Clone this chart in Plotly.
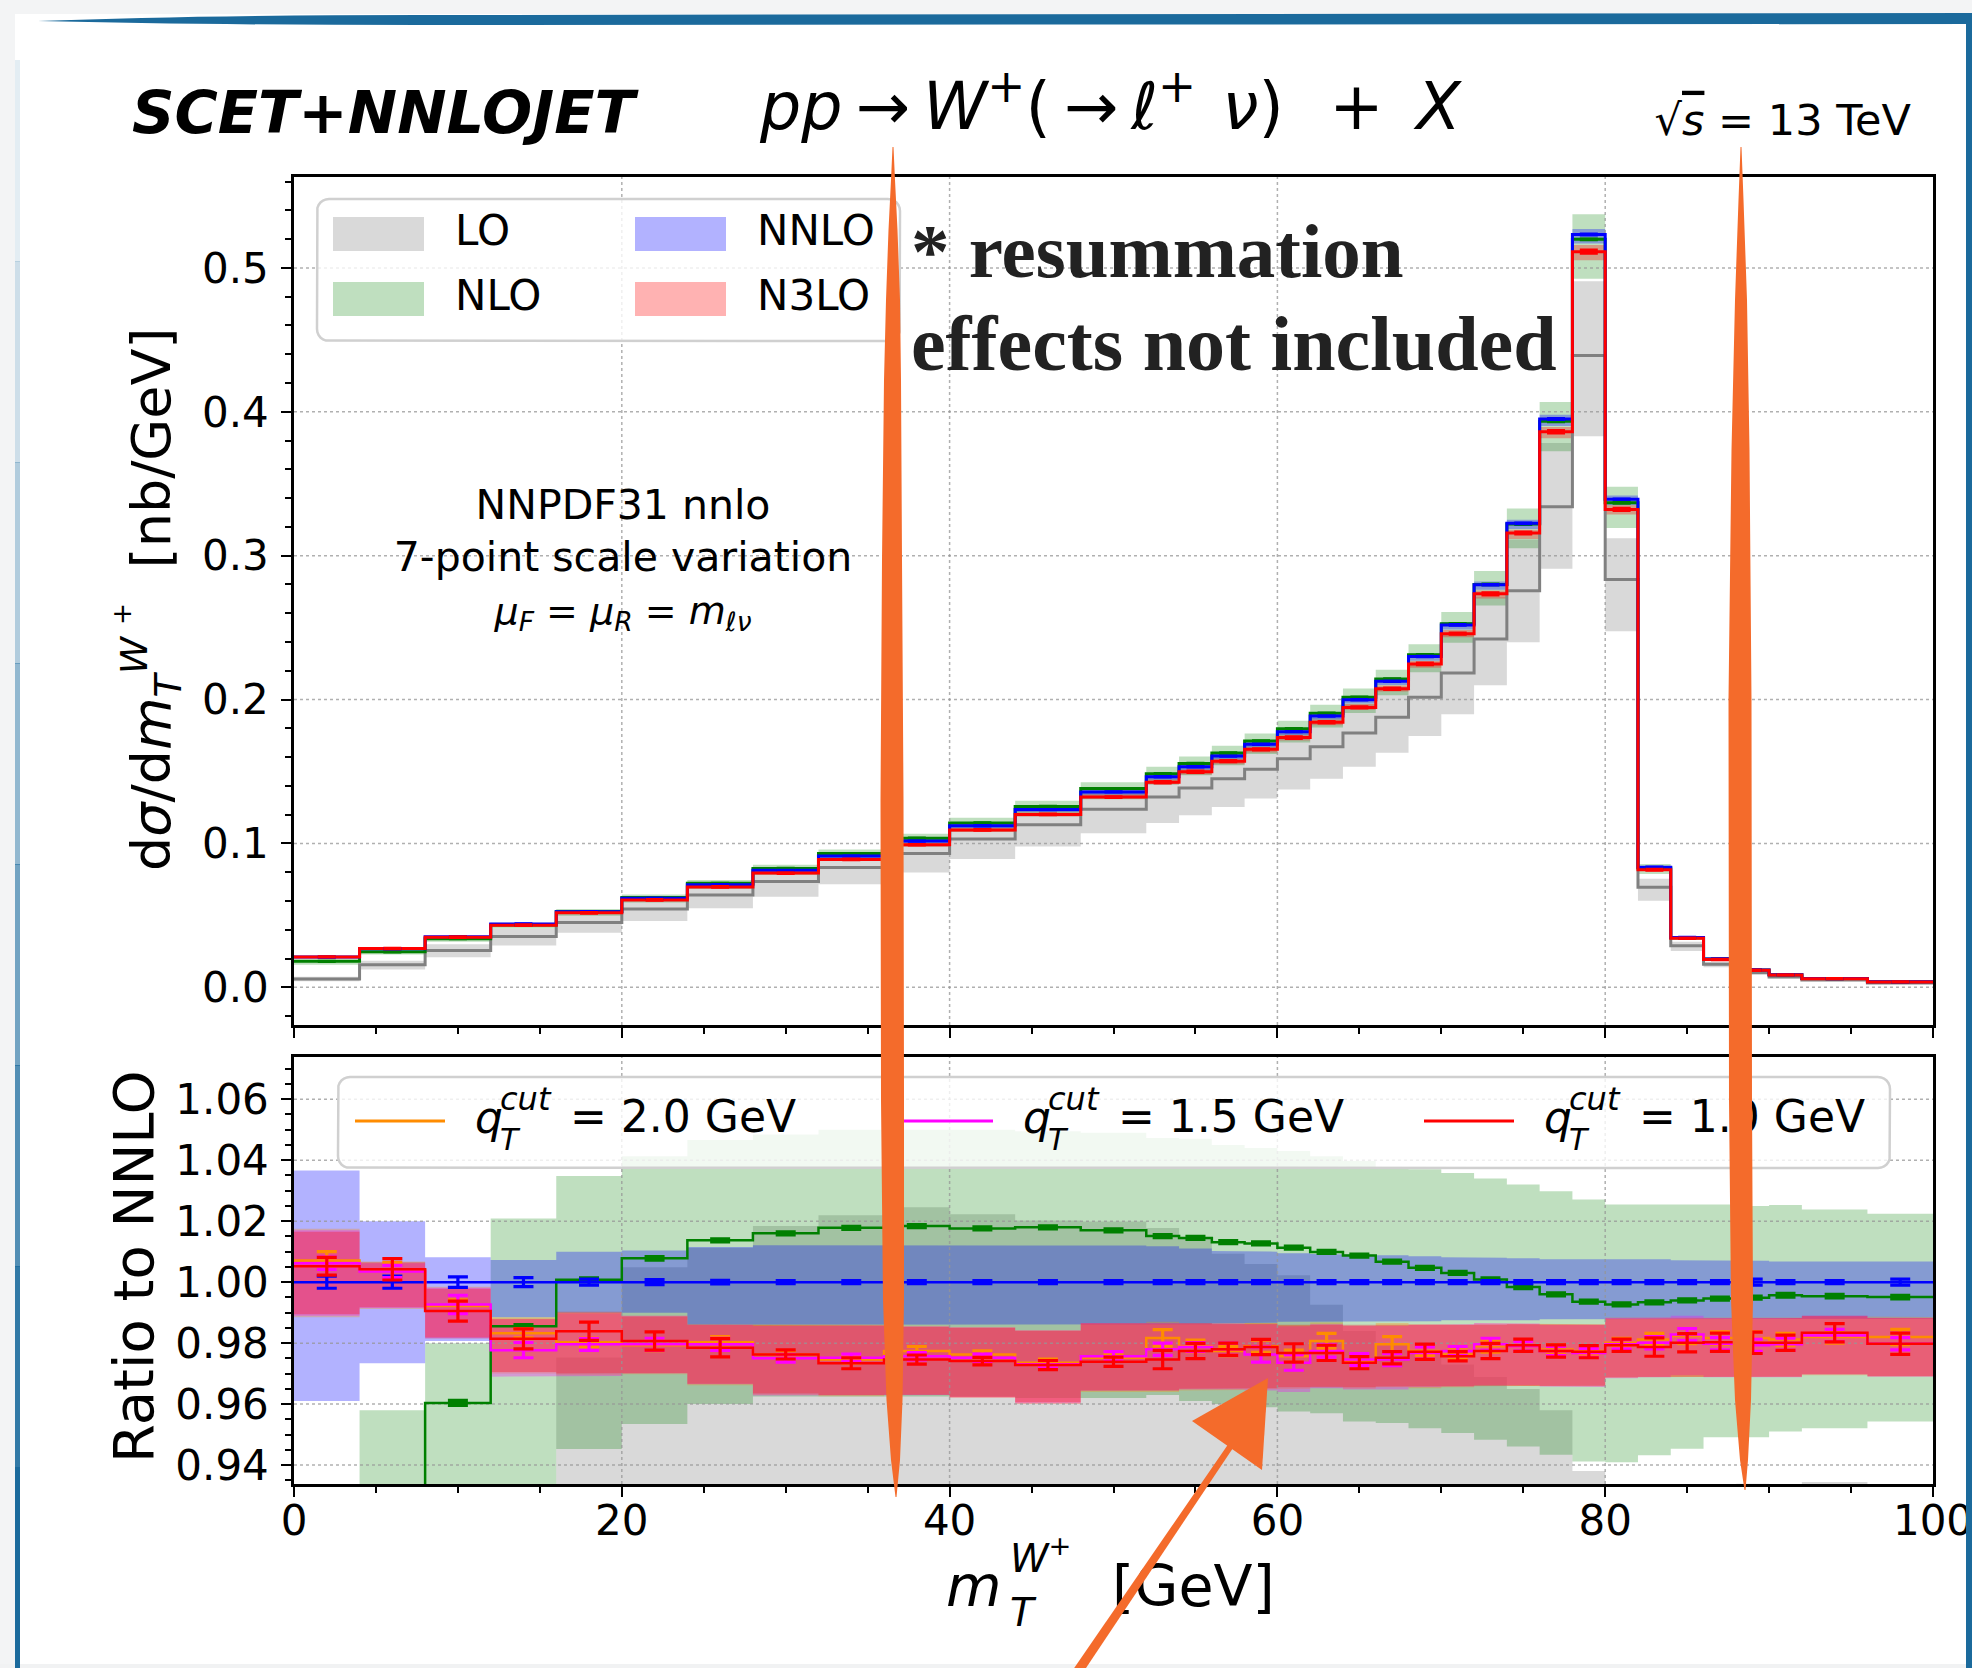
import plotly.graph_objects as go

W, H = 1972, 1668

# ---------------------------------------------------------------- data
# transverse-mass bin edges [GeV]
edges = [0, 4, 8, 12, 16, 20, 24, 28, 32, 36, 40, 44, 48, 52, 54, 56, 58, 60, 62,
         64, 66, 68, 70, 72, 74, 76, 78, 80, 82, 84, 86, 88, 90, 92, 96, 100]

# NNLO central prediction dsigma/dmT [nb/GeV]
nnlo_xs = [0.0210, 0.0268, 0.0352, 0.0440, 0.0526, 0.0619, 0.0713, 0.0813, 0.0913, 0.1017,
           0.1123, 0.1235, 0.1358, 0.1463, 0.1533, 0.1607, 0.1690, 0.1777, 0.1886, 0.1998,
           0.2128, 0.2300, 0.2519, 0.2798, 0.3225, 0.3950, 0.5232, 0.3392, 0.0835, 0.0347,
           0.0197, 0.0121, 0.0088, 0.0061, 0.0038]

# LO prediction and its scale band [nb/GeV]
lo_xs = [0.0058, 0.0156, 0.0256, 0.0353, 0.0451, 0.0544, 0.0642, 0.0735, 0.0833, 0.0930,
         0.1030, 0.1130, 0.1238, 0.1323, 0.1386, 0.1449, 0.1516, 0.1588, 0.1672, 0.1767,
         0.1877, 0.2016, 0.2184, 0.2421, 0.2756, 0.3340, 0.4392, 0.2835, 0.0695, 0.0288,
         0.0160, 0.0102, 0.0072, 0.0051, 0.0030]
lo_xs_dn = [0.0042, 0.0123, 0.0209, 0.0290, 0.0380, 0.0460, 0.0549, 0.0630, 0.0716, 0.0798,
            0.0891, 0.0979, 0.1070, 0.1142, 0.1195, 0.1253, 0.1312, 0.1374, 0.1449, 0.1533,
            0.1630, 0.1747, 0.1898, 0.2100, 0.2398, 0.2910, 0.3830, 0.2474, 0.0602, 0.0253,
            0.0140, 0.0090, 0.0063, 0.0045, 0.0026]
lo_xs_up = [0.0074, 0.0185, 0.0300, 0.0405, 0.0513, 0.0622, 0.0721, 0.0828, 0.0933, 0.1042,
            0.1148, 0.1260, 0.1385, 0.1489, 0.1555, 0.1622, 0.1700, 0.1781, 0.1872, 0.1966,
            0.2085, 0.2247, 0.2451, 0.2711, 0.3112, 0.3784, 0.4908, 0.3121, 0.0755, 0.0316,
            0.0178, 0.0113, 0.0080, 0.0057, 0.0034]

# NLO / NNLO with scale band
nlo_r = [0.8620, 0.9200, 0.9604, 0.9855, 1.0008, 1.0078, 1.0137, 1.0160, 1.0178, 1.0184,
         1.0176, 1.0180, 1.0170, 1.0151, 1.0145, 1.0131, 1.0127, 1.0113, 1.0099, 1.0087,
         1.0067, 1.0047, 1.0030, 1.0009, 0.9984, 0.9960, 0.9936, 0.9927, 0.9934, 0.9940,
         0.9946, 0.9949, 0.9957, 0.9954, 0.9951]
nlo_r_up = [0.9200, 0.9580, 0.9800, 1.0209, 1.0348, 1.0413, 1.0466, 1.0484, 1.0500, 1.0500,
            1.0500, 1.0495, 1.0490, 1.0473, 1.0470, 1.0450, 1.0440, 1.0430, 1.0413, 1.0397,
            1.0375, 1.0370, 1.0358, 1.0340, 1.0320, 1.0298, 1.0271, 1.0255, 1.0255, 1.0255,
            1.0255, 1.0250, 1.0253, 1.0238, 1.0224]
nlo_r_dn = [0.7500, 0.8500, 0.9000, 0.9250, 0.9453, 0.9535, 0.9600, 0.9625, 0.9625, 0.9625,
            0.9625, 0.9620, 0.9620, 0.9630, 0.9610, 0.9600, 0.9590, 0.9576, 0.9570, 0.9543,
            0.9538, 0.9521, 0.9505, 0.9483, 0.9461, 0.9434, 0.9412, 0.9409, 0.9432, 0.9454,
            0.9491, 0.9491, 0.9510, 0.9521, 0.9543]
nlo_err = [0.0006, 0.0006, 0.0008, 0.0006, 0.0006, 0.0006, 0.0005, 0.0005, 0.0005, 0.0005,
           0.0005, 0.0005, 0.0005, 0.0005, 0.0005, 0.0005, 0.0005, 0.0005, 0.0005, 0.0005,
           0.0005, 0.0005, 0.0005, 0.0005, 0.0005, 0.0005, 0.0005, 0.0005, 0.0005, 0.0005,
           0.0005, 0.0005, 0.0006, 0.0006, 0.0006]

# NNLO scale band relative to its central value
nnlo_r_up = [1.0366, 1.0200, 1.0082, 1.0073, 1.0100, 1.0104, 1.0115, 1.0121, 1.0121, 1.0121,
             1.0121, 1.0120, 1.0120, 1.0118, 1.0110, 1.0102, 1.0100, 1.0095, 1.0092, 1.0090,
             1.0088, 1.0085, 1.0082, 1.0080, 1.0078, 1.0075, 1.0073, 1.0075, 1.0075, 1.0072,
             1.0070, 1.0070, 1.0068, 1.0068, 1.0068]
nnlo_r_dn = [0.9610, 0.9734, 0.9807, 0.9885, 0.9900, 0.9900, 0.9860, 0.9860, 0.9860, 0.9860,
             0.9860, 0.9860, 0.9860, 0.9860, 0.9862, 0.9865, 0.9867, 0.9870, 0.9870, 0.9870,
             0.9872, 0.9872, 0.9875, 0.9875, 0.9875, 0.9878, 0.9880, 0.9880, 0.9880, 0.9880,
             0.9880, 0.9880, 0.9880, 0.9880, 0.9880]
nnlo_err = [0.0020, 0.0020, 0.0017, 0.0015, 0.0010, 0.0008, 0.0006, 0.0005, 0.0005, 0.0005,
            0.0005, 0.0005, 0.0005, 0.0005, 0.0005, 0.0005, 0.0005, 0.0005, 0.0005, 0.0005,
            0.0005, 0.0005, 0.0005, 0.0005, 0.0005, 0.0005, 0.0005, 0.0005, 0.0005, 0.0005,
            0.0005, 0.0010, 0.0005, 0.0005, 0.0010]

# N3LO / NNLO for three slicing cuts qT^cut = 2.0, 1.5, 1.0 GeV
n3lo_r_20 = [1.0071, 1.0040, 0.9922, 0.9832, 0.9803, 0.9793, 0.9803, 0.9763, 0.9746, 0.9774,
             0.9763, 0.9736, 0.9752, 0.9817, 0.9790, 0.9774, 0.9790, 0.9757, 0.9807, 0.9741,
             0.9796, 0.9774, 0.9763, 0.9790, 0.9790, 0.9779, 0.9774, 0.9801, 0.9812, 0.9823,
             0.9817, 0.9817, 0.9812, 0.9820, 0.9820]
n3lo_r_15 = [1.0062, 1.0035, 0.9927, 0.9777, 0.9796, 0.9796, 0.9796, 0.9750, 0.9752, 0.9757,
             0.9752, 0.9731, 0.9757, 0.9780, 0.9787, 0.9780, 0.9763, 0.9736, 0.9774, 0.9746,
             0.9746, 0.9768, 0.9774, 0.9796, 0.9790, 0.9774, 0.9768, 0.9796, 0.9801, 0.9828,
             0.9798, 0.9793, 0.9796, 0.9825, 0.9798]
n3lo_r_10 = [1.0052, 1.0042, 0.9905, 0.9814, 0.9839, 0.9807, 0.9785, 0.9763, 0.9734, 0.9746,
             0.9741, 0.9728, 0.9739, 0.9746, 0.9774, 0.9780, 0.9787, 0.9768, 0.9768, 0.9736,
             0.9752, 0.9772, 0.9757, 0.9774, 0.9793, 0.9774, 0.9772, 0.9793, 0.9787, 0.9801,
             0.9803, 0.9801, 0.9801, 0.9834, 0.9798]
err_20 = [0.0029, 0.0025, 0.0020, 0.0015, 0.0015, 0.0018, 0.0018, 0.0012, 0.0012, 0.0015,
          0.0012, 0.0012, 0.0012, 0.0027, 0.0020, 0.0015, 0.0020, 0.0020, 0.0025, 0.0015,
          0.0025, 0.0015, 0.0015, 0.0020, 0.0015, 0.0015, 0.0015, 0.0015, 0.0020, 0.0025,
          0.0020, 0.0020, 0.0020, 0.0020, 0.0025]
err_15 = [0.0020, 0.0020, 0.0030, 0.0025, 0.0020, 0.0020, 0.0020, 0.0012, 0.0012, 0.0012,
          0.0012, 0.0012, 0.0015, 0.0020, 0.0015, 0.0020, 0.0025, 0.0025, 0.0020, 0.0020,
          0.0020, 0.0020, 0.0015, 0.0020, 0.0015, 0.0015, 0.0015, 0.0015, 0.0020, 0.0020,
          0.0020, 0.0020, 0.0020, 0.0020, 0.0020]
err_10 = [0.0029, 0.0035, 0.0033, 0.0033, 0.0030, 0.0030, 0.0030, 0.0015, 0.0018, 0.0015,
          0.0012, 0.0015, 0.0015, 0.0030, 0.0025, 0.0020, 0.0025, 0.0030, 0.0025, 0.0020,
          0.0020, 0.0025, 0.0015, 0.0025, 0.0020, 0.0020, 0.0020, 0.0020, 0.0030, 0.0030,
          0.0030, 0.0035, 0.0025, 0.0030, 0.0035]
n3lo_up_20 = [1.0175, 1.0068, 0.9985, 0.9885, 0.9900, 0.9890, 0.9862, 0.9860, 0.9860, 0.9857,
              0.9853, 0.9843, 0.9866, 0.9870, 0.9866, 0.9862, 0.9866, 0.9858, 0.9868, 0.9856,
              0.9866, 0.9862, 0.9860, 0.9864, 0.9864, 0.9862, 0.9862, 0.9884, 0.9886, 0.9886,
              0.9884, 0.9884, 0.9884, 0.9888, 0.9886]
n3lo_dn_20 = [0.9885, 0.9912, 0.9820, 0.9700, 0.9695, 0.9698, 0.9662, 0.9630, 0.9626, 0.9632,
              0.9620, 0.9600, 0.9640, 0.9640, 0.9645, 0.9646, 0.9648, 0.9650, 0.9658, 0.9650,
              0.9655, 0.9652, 0.9655, 0.9662, 0.9660, 0.9658, 0.9658, 0.9686, 0.9690, 0.9692,
              0.9692, 0.9692, 0.9690, 0.9695, 0.9690]
n3lo_up_15 = [1.0170, 1.0062, 0.9982, 0.9878, 0.9898, 0.9890, 0.9860, 0.9856, 0.9858, 0.9855,
              0.9852, 0.9842, 0.9866, 0.9866, 0.9866, 0.9864, 0.9862, 0.9855, 0.9862, 0.9857,
              0.9857, 0.9860, 0.9862, 0.9866, 0.9864, 0.9860, 0.9860, 0.9882, 0.9884, 0.9890,
              0.9882, 0.9880, 0.9882, 0.9890, 0.9882]
n3lo_dn_15 = [0.9890, 0.9915, 0.9818, 0.9690, 0.9692, 0.9700, 0.9665, 0.9628, 0.9628, 0.9630,
              0.9622, 0.9602, 0.9644, 0.9645, 0.9648, 0.9648, 0.9645, 0.9640, 0.9652, 0.9648,
              0.9648, 0.9655, 0.9658, 0.9662, 0.9662, 0.9658, 0.9656, 0.9685, 0.9688, 0.9695,
              0.9688, 0.9686, 0.9688, 0.9697, 0.9690]
n3lo_up_10 = [1.0165, 1.0065, 0.9978, 0.9880, 0.9903, 0.9887, 0.9860, 0.9858, 0.9858, 0.9853,
              0.9850, 0.9840, 0.9864, 0.9864, 0.9864, 0.9864, 0.9864, 0.9860, 0.9860, 0.9858,
              0.9860, 0.9860, 0.9860, 0.9860, 0.9862, 0.9860, 0.9860, 0.9880, 0.9880, 0.9880,
              0.9882, 0.9882, 0.9882, 0.9890, 0.9882]
n3lo_dn_10 = [0.9895, 0.9918, 0.9815, 0.9705, 0.9700, 0.9702, 0.9667, 0.9635, 0.9630, 0.9630,
              0.9623, 0.9606, 0.9645, 0.9645, 0.9650, 0.9650, 0.9652, 0.9655, 0.9655, 0.9655,
              0.9658, 0.9658, 0.9658, 0.9660, 0.9660, 0.9660, 0.9660, 0.9688, 0.9688, 0.9690,
              0.9690, 0.9690, 0.9690, 0.9698, 0.9692]

top_ticks = [0.0, 0.1, 0.2, 0.3, 0.4, 0.5]
ratio_ticks = [0.94, 0.96, 0.98, 1.00, 1.02, 1.04, 1.06]
x_ticks = [0, 20, 40, 60, 80, 100]

# ---------------------------------------------------------------- derived
nb = len(nnlo_xs)
centers = [(edges[i] + edges[i + 1]) / 2 for i in range(nb)]


def scale(a, b):
    return [x * y for x, y in zip(a, b)]


def div(a, b):
    return [x / y for x, y in zip(a, b)]


nlo_xs, nlo_xs_up, nlo_xs_dn = scale(nnlo_xs, nlo_r), scale(nnlo_xs, nlo_r_up), scale(nnlo_xs, nlo_r_dn)
nnlo_xs_up, nnlo_xs_dn = scale(nnlo_xs, nnlo_r_up), scale(nnlo_xs, nnlo_r_dn)
n3lo_xs, n3lo_xs_up, n3lo_xs_dn = scale(nnlo_xs, n3lo_r_10), scale(nnlo_xs, n3lo_up_10), scale(nnlo_xs, n3lo_dn_10)
lo_r, lo_r_up, lo_r_dn = div(lo_xs, nnlo_xs), div(lo_xs_up, nnlo_xs), div(lo_xs_dn, nnlo_xs)

# ---------------------------------------------------------------- colours
GRAY, GREEN, BLUE, RED = "#808080", "#008000", "#0000ff", "#ff0000"
ORANGE, MAGENTA = "#ff8c00", "#ff00ff"
F_GRAY = "rgba(128,128,128,0.3)"
F_GREEN = "rgba(0,128,0,0.25)"
F_BLUE = "rgba(0,0,255,0.3)"
F_RED = "rgba(255,0,0,0.3)"
F_ORANGE = "rgba(255,140,0,0.3)"
F_MAGENTA = "rgba(255,0,255,0.3)"
ACCENT = "#f46b2b"
FRAME = "#1b6a9c"
FONT = "DejaVu Sans"

fig = go.Figure()


def band(lo, hi, fill, xa, ya):
    xs, ys = [], []
    for i in range(nb):
        xs += [edges[i], edges[i + 1]]
        ys += [hi[i], hi[i]]
    for i in reversed(range(nb)):
        xs += [edges[i + 1], edges[i]]
        ys += [lo[i], lo[i]]
    fig.add_trace(go.Scatter(x=xs, y=ys, fill="toself", fillcolor=fill, mode="lines",
                             line=dict(width=0, color=fill), xaxis=xa, yaxis=ya,
                             hoverinfo="skip", showlegend=False))


def step(vals, color, xa, ya, width=3):
    fig.add_trace(go.Scatter(x=edges, y=list(vals) + [vals[-1]], mode="lines",
                             line=dict(shape="hv", color=color, width=width),
                             xaxis=xa, yaxis=ya, hoverinfo="skip", showlegend=False))


def errs(vals, err, color, xa, ya, thick=3.2, w=10):
    fig.add_trace(go.Scatter(x=centers, y=vals, mode="markers",
                             marker=dict(size=1, color=color),
                             error_y=dict(type="data", array=err, visible=True, color=color,
                                          thickness=thick, width=w),
                             xaxis=xa, yaxis=ya, hoverinfo="skip", showlegend=False))


def grid(yvals, y0, y1, xa, ya):
    xs, ys = [], []
    for xv in x_ticks[1:-1]:
        xs += [xv, xv, None]
        ys += [y0, y1, None]
    for yv in yvals:
        xs += [0, 100, None]
        ys += [yv, yv, None]
    fig.add_trace(go.Scatter(x=xs, y=ys, mode="lines",
                             line=dict(color="rgba(150,150,150,0.75)", width=1.5, dash="dot"),
                             xaxis=xa, yaxis=ya, hoverinfo="skip", showlegend=False))


# ---------------------------------------------------------------- upper panel
TOP_RANGE = [-0.0262, 0.5632]
band(lo_xs_dn, lo_xs_up, F_GRAY, "x", "y")
band(nlo_xs_dn, nlo_xs_up, F_GREEN, "x", "y")
band(nnlo_xs_dn, nnlo_xs_up, F_BLUE, "x", "y")
band(n3lo_xs_dn, n3lo_xs_up, F_RED, "x", "y")
grid(top_ticks, TOP_RANGE[0], TOP_RANGE[1], "x", "y")
step(lo_xs, GRAY, "x", "y")
step(nlo_xs, GREEN, "x", "y")
step(nnlo_xs, BLUE, "x", "y")
step(n3lo_xs, RED, "x", "y")
errs(nlo_xs, scale(nlo_xs, nlo_err), GREEN, "x", "y", w=9)
errs(nnlo_xs, scale(nnlo_xs, nnlo_err), BLUE, "x", "y", w=9)
errs(n3lo_xs, scale(nnlo_xs, err_10), RED, "x", "y", w=9)

# ---------------------------------------------------------------- ratio panel
RAT_RANGE = [0.9338, 1.074]
ones = [1.0] * nb
band(lo_r_dn, lo_r_up, F_GRAY, "x2", "y2")
band(nlo_r_dn, nlo_r_up, F_GREEN, "x2", "y2")
band(nnlo_r_dn, nnlo_r_up, F_BLUE, "x2", "y2")
band(n3lo_dn_20, n3lo_up_20, F_ORANGE, "x2", "y2")
band(n3lo_dn_15, n3lo_up_15, F_MAGENTA, "x2", "y2")
band(n3lo_dn_10, n3lo_up_10, F_RED, "x2", "y2")
grid(ratio_ticks, RAT_RANGE[0], RAT_RANGE[1], "x2", "y2")
step(lo_r, GRAY, "x2", "y2", 2.5)
step(nlo_r, GREEN, "x2", "y2", 2.5)
errs(nlo_r, nlo_err, GREEN, "x2", "y2")
step(ones, BLUE, "x2", "y2", 2.5)
errs(ones, nnlo_err, BLUE, "x2", "y2")
step(n3lo_r_20, ORANGE, "x2", "y2", 2.5)
errs(n3lo_r_20, err_20, ORANGE, "x2", "y2")
step(n3lo_r_15, MAGENTA, "x2", "y2", 2.5)
errs(n3lo_r_15, err_15, MAGENTA, "x2", "y2")
step(n3lo_r_10, RED, "x2", "y2", 2.5)
errs(n3lo_r_10, err_10, RED, "x2", "y2")

# ---------------------------------------------------------------- overlay (pixel coordinates)


def rrect(x0, y0, x1, y1, r, n=6):
    import math
    pts = []
    corners = [(x1 - r, y0 + r, -90, 0), (x1 - r, y1 - r, 0, 90),
               (x0 + r, y1 - r, 90, 180), (x0 + r, y0 + r, 180, 270)]
    for cx, cy, a0, a1 in corners:
        for k in range(n + 1):
            a = math.radians(a0 + (a1 - a0) * k / n)
            pts.append((cx + r * math.cos(a), cy + r * math.sin(a)))
    pts.append(pts[0])
    return [p[0] for p in pts], [p[1] for p in pts]


def poly(xs, ys, fill, line_color=None, lw=0):
    fig.add_trace(go.Scatter(x=xs, y=ys, fill="toself", fillcolor=fill, mode="lines",
                             line=dict(width=lw, color=line_color or fill),
                             xaxis="x3", yaxis="y3", hoverinfo="skip", showlegend=False))


def text(x, y, s, size, pos="middle right", family=FONT, color="black"):
    fig.add_trace(go.Scatter(x=[x], y=[y], mode="text", text=[s], textposition=pos,
                             textfont=dict(family=family, size=size, color=color),
                             xaxis="x3", yaxis="y3", hoverinfo="skip", showlegend=False,
                             cliponaxis=False))


def seg(x0, x1, y, color):
    fig.add_trace(go.Scatter(x=[x0, x1], y=[y, y], mode="lines", line=dict(color=color, width=3),
                             xaxis="x3", yaxis="y3", hoverinfo="skip", showlegend=False))


# legend of the upper panel
bx, by = rrect(317, 199, 900, 341, 12)
poly(bx, by, "rgba(255,255,255,0.8)", "#d0d0d0", 2.5)
for (x0, y0, fill, label) in [(333, 217, F_GRAY, "LO"), (333, 282, F_GREEN, "NLO"),
                              (635, 217, F_BLUE, "NNLO"), (635, 282, F_RED, "N3LO")]:
    poly([x0, x0 + 91, x0 + 91, x0, x0], [y0, y0, y0 + 34, y0 + 34, y0], fill)
    text(x0 + 122, y0 + 17, label, 42)

# legend of the ratio panel: q, stacked cut/T, value
bx, by = rrect(338, 1077, 1890, 1168, 12)
poly(bx, by, "rgba(255,255,255,0.8)", "#d0d0d0", 2.5)
for (x0, color, cut) in [(355, ORANGE, "2.0"), (903, MAGENTA, "1.5"), (1424, RED, "1.0")]:
    seg(x0, x0 + 90, 1121, color)
    text(x0 + 120, 1122, "<i>q</i>", 44)
    text(x0 + 145, 1102, "<i>cut</i>", 32)
    text(x0 + 145, 1142, "<i>T</i>", 30)
    text(x0 + 215, 1121, "= %s GeV" % cut, 44)

# header
text(132, 118, "<b><i>SCET+NNLOJET</i></b>", 59)
text(760, 113, "<i>pp</i>\u2009\u2192\u2009<i>W</i><sup>+</sup>(\u2009\u2192\u2009<i>\u2113</i><sup>+</sup>\u2009\u2009<i>\u03bd</i>)\u2002\u2009+\u2002<i>X</i>", 65)
text(1911, 124, "\u221a<span style='text-decoration:overline'><i>s</i></span> = 13 TeV", 43, pos="middle left")

# scale-choice note
text(623, 509, "NNPDF31 nnlo", 41, pos="middle center")
text(623, 561, "7-point scale variation", 41, pos="middle center")
text(623, 614, "<i>\u03bc</i><sub><i>F</i></sub> = <i>\u03bc</i><sub><i>R</i></sub> = <i>m</i><sub><i>\u2113\u03bd</i></sub>", 38, pos="middle center")

# remark
text(911, 258, "<b>* resummation</b>", 77, family="Liberation Serif", color="#222222")
text(911, 350, "<b>effects not included</b>", 78, family="Liberation Serif", color="#222222")

# x-axis title: m, stacked W+/T, unit
text(946, 1592, "<i>m</i>", 57)
text(1010, 1562, "<i>W</i><sup>+</sup>", 39)
text(1010, 1616, "<i>T</i>", 39)
text(1112, 1592, "[GeV]", 57)

# ---------------------------------------------------------------- shapes (frame and pen marks)


def ppath(pts):
    return "M " + " L ".join("%.1f,%.1f" % p for p in pts) + " Z"


def stroke(pts):
    left = [(cx - w / 2.0, y) for (y, cx, w) in pts]
    right = [(cx + w / 2.0, y) for (y, cx, w) in reversed(pts)]
    return ppath(left + right)


shapes = []


def shp(path, fill, layer="above"):
    shapes.append(dict(type="path", path=path, xref="x3", yref="y3", fillcolor=fill,
                       line=dict(width=0), layer=layer))


# slide surround
shp(ppath([(0, 0), (W, 0), (W, 14), (0, 14)]), "#f3f4f5", "below")
shp(ppath([(0, 0), (15, 0), (15, H), (0, H)]), "#f3f4f5", "below")
shp(ppath([(0, 1664), (W, 1664), (W, H), (0, H)]), "#f1f2f3", "below")
shp("M 38,21 Q 200,15 420,15 L 1972,13 L 1972,24 L 420,25 Q 200,25 38,21 Z", FRAME)
shp(ppath([(1966, 13), (1972, 13), (1972, H), (1966, H)]), FRAME)
left_alpha = [0.12, 0.22, 0.34, 0.48, 0.62, 0.76, 0.9, 1.0]
for k, a in enumerate(left_alpha):
    y0 = 60 + k * 201
    shapes.append(dict(type="rect", xref="x3", yref="y3", x0=15, x1=20, y0=y0, y1=y0 + 202,
                       fillcolor=FRAME, opacity=a, line=dict(width=0), layer="above"))

# pen marks
shp(stroke([(147, 893, 1), (180, 893, 4), (230, 893, 9), (300, 893, 14), (380, 892.5, 17),
            (560, 892, 20), (800, 892, 23), (1100, 892.5, 23), (1300, 893.5, 21),
            (1400, 894.5, 16), (1460, 895.5, 9), (1497, 896, 1)]), ACCENT)
shp(stroke([(147, 1741, 1), (200, 1741, 5), (300, 1741, 12), (450, 1740.5, 18),
            (700, 1740, 23), (1100, 1740.5, 23), (1300, 1742, 22), (1400, 1743, 16),
            (1460, 1744, 8), (1490, 1745, 1)]), ACCENT)
shp(ppath([(1074.2, 1668), (1086, 1668), (1234.5, 1445.7), (1229.5, 1442.3)]), ACCENT)
shp(ppath([(1268, 1378), (1192, 1421), (1262, 1470)]), ACCENT)

# ---------------------------------------------------------------- layout
X0, X1 = 294 / W, 1933 / W
YT = [1 - 1025 / H, 1 - 177 / H]
YB = [1 - 1484 / H, 1 - 1056.5 / H]

axis_common = dict(showline=True, linecolor="black", linewidth=2.5, mirror=True,
                   ticks="outside", ticklen=10, tickwidth=2, tickcolor="black",
                   showgrid=False, zeroline=False, automargin=False,
                   tickfont=dict(family=FONT, size=42, color="black"))
minor_common = dict(ticks="outside", ticklen=6, tickwidth=1.5, tickcolor="black")

fig.update_layout(
    width=W, height=H, margin=dict(l=0, r=0, t=0, b=0, pad=0, autoexpand=False),
    paper_bgcolor="white", plot_bgcolor="rgba(0,0,0,0)", showlegend=False,
    font=dict(family=FONT, color="black"),
    xaxis=dict(domain=[X0, X1], range=[0, 100], anchor="y", showticklabels=False,
               tickvals=x_ticks, minor=dict(dtick=5, tick0=0, **minor_common),
               **axis_common),
    yaxis=dict(domain=YT, range=TOP_RANGE, anchor="x", tickvals=top_ticks, tickformat=".1f",
               ticklabelstandoff=4, minor=dict(dtick=0.02, tick0=0, **minor_common),
               **axis_common),
    xaxis2=dict(domain=[X0, X1], range=[0, 100], anchor="y2", tickvals=x_ticks,
                ticklabelstandoff=-12, ticklabeloverflow="allow",
                minor=dict(dtick=5, tick0=0, **minor_common),
                **axis_common),
    yaxis2=dict(domain=YB, range=RAT_RANGE, anchor="x2", tickvals=ratio_ticks, tickformat=".2f",
                ticklabelstandoff=4, minor=dict(dtick=0.005, tick0=0.94, **minor_common),
                **axis_common),
    xaxis3=dict(domain=[0, 1], range=[0, W], anchor="y3", visible=False, fixedrange=True,
                automargin=False),
    yaxis3=dict(domain=[0, 1], range=[H, 0], anchor="x3", visible=False, fixedrange=True,
                automargin=False),
    shapes=shapes,
    annotations=[
        dict(x=148 / W, y=1 - 600 / H, xref="paper", yref="paper", textangle=-90,
             text="d<i>\u03c3</i>/d<i>m</i><sub><i>T</i></sub><sup><i>W</i> <sup>+</sup></sup>  [nb/GeV]",
             showarrow=False, font=dict(family=FONT, size=54), xanchor="center", yanchor="middle"),
        dict(x=133 / W, y=1 - 1267 / H, xref="paper", yref="paper", textangle=-90,
             text="Ratio to NNLO", showarrow=False, font=dict(family=FONT, size=56),
             xanchor="center", yanchor="middle"),
    ],
)

fig.write_html("out.html")
